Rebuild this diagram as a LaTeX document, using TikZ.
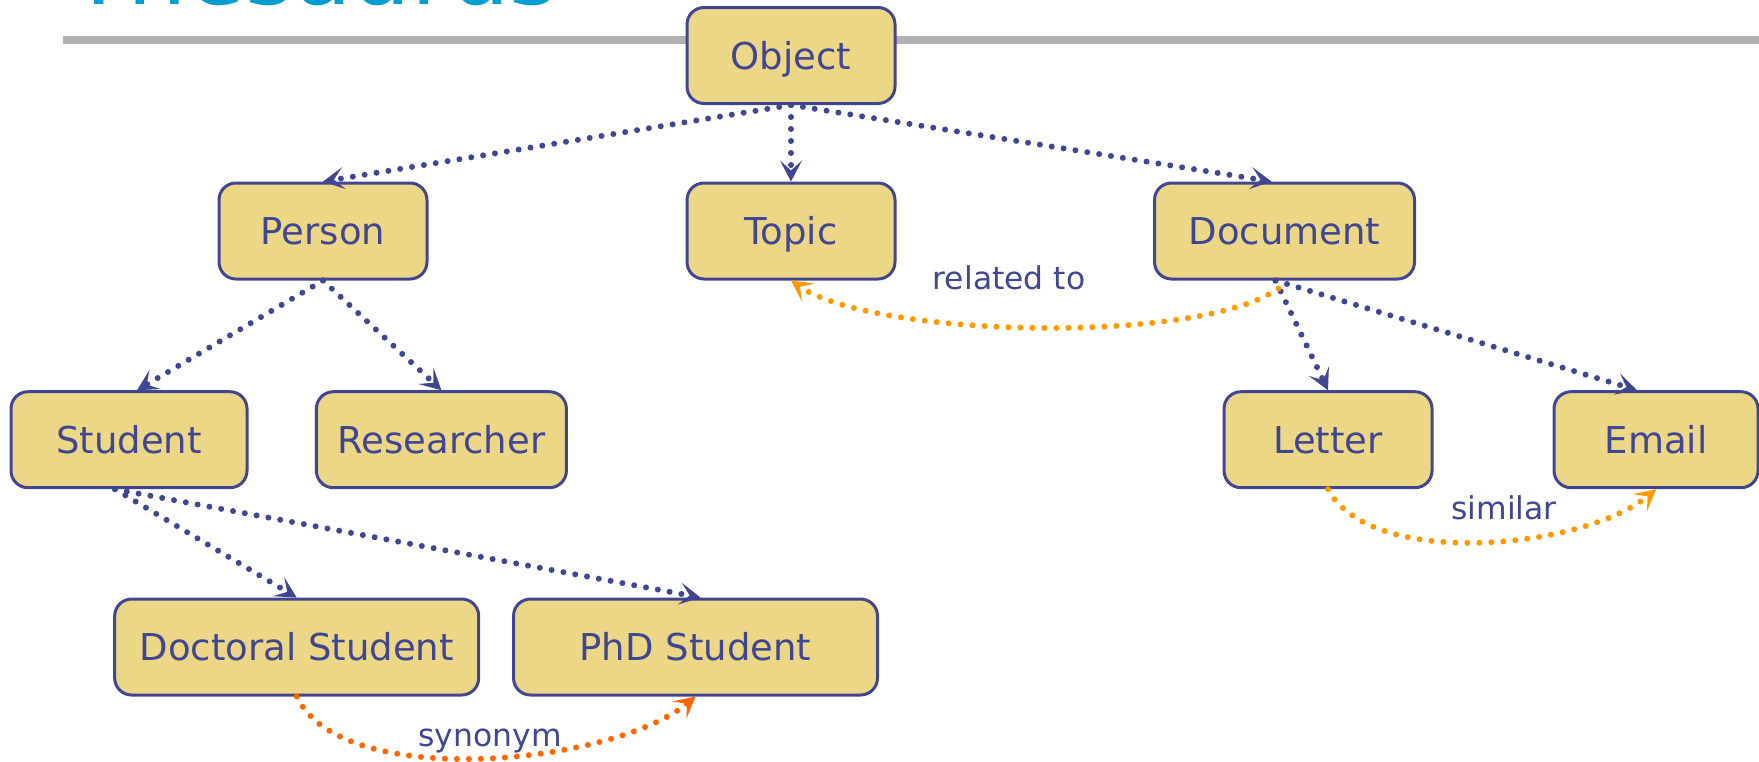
\documentclass[tikz,border=0pt]{standalone}
\usepackage{fontspec}
\setmainfont{DejaVu Sans}
\usetikzlibrary{arrows.meta}

\definecolor{ink}{RGB}{64,70,145}
\definecolor{boxfill}{RGB}{235,215,133}
\definecolor{amber}{RGB}{255,153,0}
\definecolor{tangerine}{RGB}{255,102,0}
\definecolor{titlecyan}{RGB}{0,157,208}
\definecolor{rulegray}{RGB}{178,178,178}

\begin{document}
\begin{tikzpicture}[x=0.5pt,y=0.5pt,
  concept/.style={draw=ink, fill=boxfill, line width=1.5pt, rounded corners=8.5pt,
    text=ink, font=\fontsize{18.5}{22}\selectfont, minimum height=48pt, inner sep=0pt,
    text height=13.5pt, text depth=0pt},
  dotline/.style={line width=3pt, line cap=round, dash pattern=on 0pt off 6pt,
    -{Stealth[length=10.5pt,width=11pt,inset=5pt]}},
  isa/.style={dotline, color=ink},
  relation/.style={dotline},
  tag/.style={text=ink, font=\fontsize{15.7}{18}\selectfont, inner sep=0pt, anchor=base}
]
\useasboundingbox (0,0) rectangle (1759,-761);
\clip (0,0) rectangle (1759,-761);

% heading and rule
\node[anchor=base west, inner sep=0pt, text=titlecyan,
      font=\fontsize{47}{56}\selectfont] (title) at (70,-4) {Thesaurus};
\fill[rulegray] (63,-36) rectangle (1759,-44);

% concepts
\node[concept, minimum width=104pt] (object)     at (791,-55.5)   {Object};
\node[concept, minimum width=104pt] (topic)      at (791,-231)    {Topic};
\node[concept, minimum width=104pt] (person)     at (323,-231)    {Person};
\node[concept, minimum width=130pt] (document)   at (1284.5,-231) {Document};
\node[concept, minimum width=118pt] (student)    at (129,-439.7)  {Student};
\node[concept, minimum width=125pt] (researcher) at (441.4,-439.7){Researcher};
\node[concept, minimum width=104pt] (letter)     at (1328,-439.7) {Letter};
\node[concept, minimum width=102pt] (email)      at (1656,-439.7) {Email};
\node[concept, minimum width=182pt] (doctoral)   at (296.7,-647)  {Doctoral Student};
\node[concept, minimum width=182pt] (phd)        at (695.5,-647)  {PhD Student};

% hierarchy
\draw[isa] (object.south) -- (person.north);
\draw[isa] (object.south) -- (topic.north);
\draw[isa] (object.south) -- ([xshift=-6.5pt]document.north);
\draw[isa] (person.south) -- ([xshift=4pt]student.north);
\draw[isa] (person.south) -- (researcher.north);
\draw[isa] ([xshift=-7pt]student.south) -- (doctoral.north);
\draw[isa] ([xshift=-7pt]student.south) -- ([xshift=2.5pt]phd.north);
\draw[isa] ([xshift=-4.5pt]document.south) -- (letter.north);
\draw[isa] ([xshift=-4.5pt]document.south) -- ([xshift=-9.5pt]email.north);

% associative relations
\draw[relation, amber] ([xshift=-3pt,yshift=-4pt]document.south)
   to[out=215,in=-35,looseness=0.52] (topic.south);
\draw[relation, amber] (letter.south) to[out=-62,in=-140,looseness=0.72] (email.south);
\draw[relation, tangerine] (doctoral.south) to[out=-65,in=-140,looseness=0.68] (phd.south);

\node[tag] (relatedlbl) at (1009,-289.5) {related to};
\node[tag] (similarlbl) at (1504,-519.5) {similar};
\node[tag] (synonymlbl) at (490,-746)    {synonym};
\end{tikzpicture}
\end{document}
